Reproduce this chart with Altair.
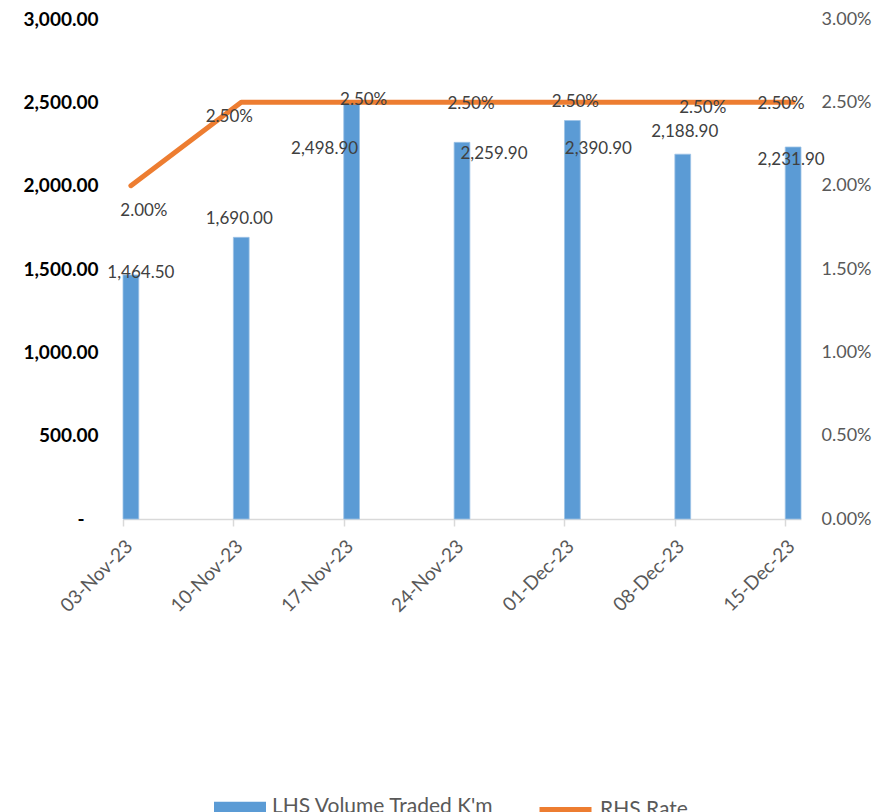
import altair as alt
import pandas as pd

# ---- data ----
dates = ["2023-11-03", "2023-11-10", "2023-11-17", "2023-11-24",
         "2023-12-01", "2023-12-08", "2023-12-15"]
date_labels = ["03-Nov-23", "10-Nov-23", "17-Nov-23", "24-Nov-23",
               "01-Dec-23", "08-Dec-23", "15-Dec-23"]
volume = [1464.50, 1690.00, 2498.90, 2259.90, 2390.90, 2188.90, 2231.90]
rate = [0.020, 0.025, 0.025, 0.025, 0.025, 0.025, 0.025]
SERIES_BAR = "LHS Volume Traded K'm"
SERIES_LINE = "RHS Rate"

# label nudges (pixels) as placed in the original
vol_label_offsets = [(10, -2), (-2, -18), (-27, 46), (32, 12), (26, 28), (2, -22), (-2, 13)]
rate_label_offsets = [(13, 25), (-12, 15), (12, -2), (9, 2), (3, 0), (20, 6), (-12, 2)]

BLUE = "#5B9BD5"
ORANGE = "#ED7D31"
FONT = "Lato"

d = pd.to_datetime(pd.Series(dates))
day = (d - d.iloc[0]).dt.days
df = pd.DataFrame({
    "idx": list(range(len(dates))),
    "day": day,
    "day_end": day + 1,
    "day_mid": day + 0.5,
    "volume": volume,
    "rate": rate,
    "vol_series": SERIES_BAR,
    "rate_series": SERIES_LINE,
})

day_list = [int(v) for v in day]
label_arr = "[" + ",".join("'" + s + "'" for s in date_labels) + "]"
day_arr = "[" + ",".join(str(v) for v in day_list) + "]"

xscale = alt.Scale(domain=[0, day_list[-1] + 1], nice=False, zero=False)
xaxis = alt.Axis(
    values=day_list,
    labelExpr=f"{label_arr}[indexof({day_arr}, datum.value)]",
    labelAngle=-45, labelAlign="right", labelBaseline="middle",
    labelFont=FONT, labelFontSize=19, labelColor="#595959",
    labelPadding=17, labelOffset=6,
    domainColor="#d9d9d9", domainWidth=1.5,
    tickColor="#d9d9d9", tickWidth=1.5, tickSize=7,
    grid=False, title=None,
)

yl_scale = alt.Scale(domain=[0, 3000], nice=False)
yl_axis = alt.Axis(
    values=[0, 500, 1000, 1500, 2000, 2500, 3000],
    labelExpr="datum.value == 0 ? '-\u2800' : format(datum.value, ',.2f')",
    labelFont=FONT, labelFontSize=19, labelFontWeight="bold", labelColor="#000000",
    labelPadding=25, domain=False, ticks=False, tickSize=0, grid=False, title=None,
)
yr_scale = alt.Scale(domain=[0, 0.03], nice=False)
yr_axis = alt.Axis(
    values=[0, 0.005, 0.01, 0.015, 0.02, 0.025, 0.03], format=".2%", orient="right",
    labelFont=FONT, labelFontSize=18, labelColor="#595959",
    labelPadding=20, domain=False, ticks=False, tickSize=0, grid=False, title=None,
)

bar_legend = alt.Legend(
    title=None, orient="none", legendX=91, legendY=762, padding=0,
    labelFont=FONT, labelFontSize=21, labelColor="#595959", labelOffset=6,
    labelLimit=400,
    symbolSize=2704, symbolType="M-1,-0.2H1V0.2H-1Z", symbolStrokeWidth=0,
    symbolOpacity=1,
)
line_legend = alt.Legend(
    title=None, orient="none", legendX=414, legendY=762, padding=0,
    labelFont=FONT, labelFontSize=21, labelColor="#595959", labelOffset=6,
    labelLimit=400,
    symbolSize=2704, symbolType="M-1,0H1", symbolStrokeWidth=5,
    symbolOpacity=1,
)


def X(field):
    return alt.X(f"{field}:Q", scale=xscale, axis=xaxis)


def YL(field):
    return alt.Y(f"{field}:Q", scale=yl_scale, axis=yl_axis)


def YR(field):
    return alt.Y(f"{field}:Q", scale=yr_scale, axis=yr_axis)


base = alt.Chart(df)

bars = base.mark_bar(stroke="#9DC3E6", strokeWidth=0.8).encode(
    x=X("day"), x2="day_end", y=YL("volume"), y2=alt.datum(0),
    fill=alt.Fill("vol_series:N", scale=alt.Scale(domain=[SERIES_BAR], range=[BLUE]),
                  legend=bar_legend),
)

vol_texts = [
    base.transform_filter(alt.datum.idx == i).mark_text(
        dx=dx, dy=dy, font=FONT, fontSize=17, color="#404040",
        align="center", baseline="middle",
    ).encode(x=X("day_mid"), y=YL("volume"), text=alt.Text("volume:Q", format=",.2f"))
    for i, (dx, dy) in enumerate(vol_label_offsets)
]

line = base.mark_line(strokeWidth=5, strokeCap="round", strokeJoin="round").encode(
    x=X("day_mid"), y=YR("rate"),
    stroke=alt.Stroke("rate_series:N", scale=alt.Scale(domain=[SERIES_LINE], range=[ORANGE]),
                      legend=line_legend),
)

rate_texts = [
    base.transform_filter(alt.datum.idx == i).mark_text(
        dx=dx, dy=dy, font=FONT, fontSize=17, color="#404040",
        align="center", baseline="middle",
    ).encode(x=X("day_mid"), y=YR("rate"), text=alt.Text("rate:Q", format=".2%"))
    for i, (dx, dy) in enumerate(rate_label_offsets)
]

left = alt.layer(bars, *vol_texts)
right = alt.layer(line, *rate_texts)

chart = alt.layer(left, right).resolve_scale(y="independent").properties(
    width=678, height=500,
    padding={"left": 115, "top": 11, "right": 73, "bottom": 293},
    autosize=alt.AutoSizeParams(type="none"),
    background="white",
).configure_view(stroke=None)

chart.save("out.html", embed_options={"renderer": "svg", "actions": False})
